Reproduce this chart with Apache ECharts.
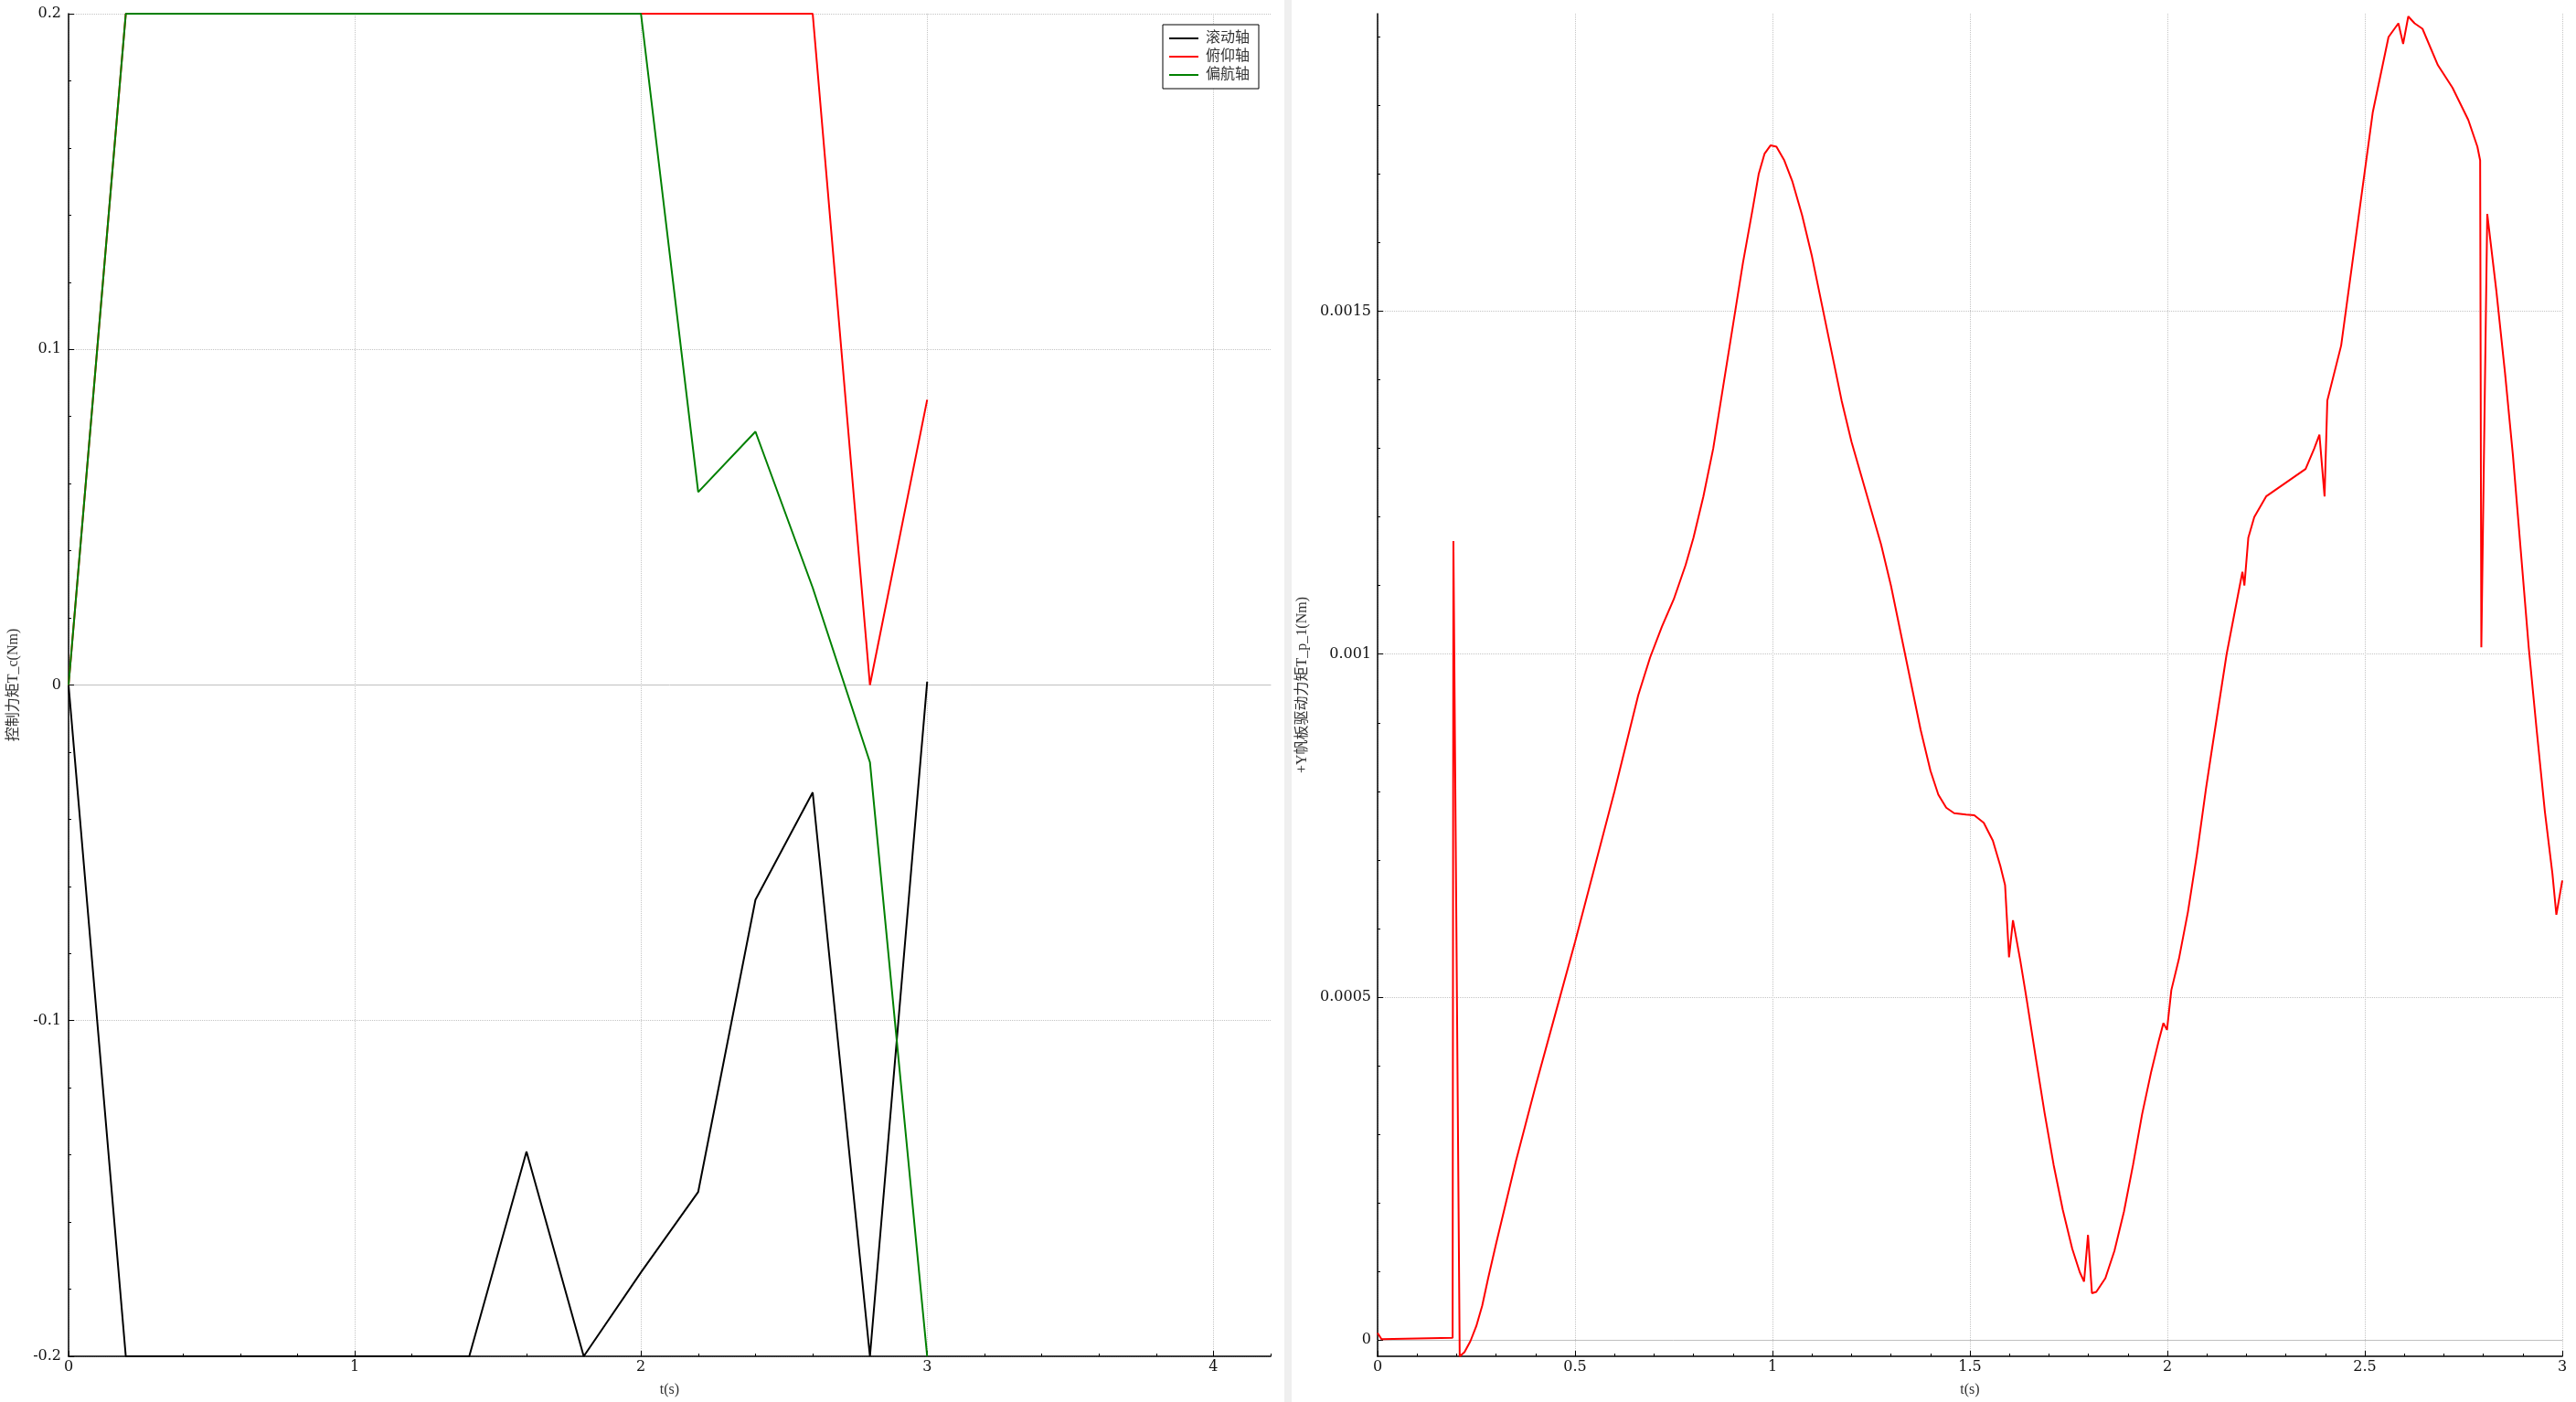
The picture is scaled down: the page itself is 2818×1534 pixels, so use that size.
<!DOCTYPE html>
<html>
<head>
<meta charset="utf-8">
<script src="https://cdn.jsdelivr.net/npm/echarts@6/dist/echarts.min.js"></script>
<style>
html,body{margin:0;padding:0;background:#fff;}
#main{width:2818px;height:1534px;}
</style>
</head>
<body>
<div id="main"></div>
<script>
// ---------- Left chart data: control torque T_c (Nm) ----------
var timeC = [0, 0.2, 0.4, 0.6, 0.8, 1.0, 1.2, 1.4, 1.6, 1.8, 2.0, 2.2, 2.4, 2.6, 2.8, 3.0];
var rollAxis  = [0, -0.2, -0.2, -0.2, -0.2, -0.2, -0.2, -0.2, -0.139, -0.2, -0.175, -0.151, -0.064, -0.032, -0.2, 0.001];
var pitchAxis = [0, 0.2, 0.2, 0.2, 0.2, 0.2, 0.2, 0.2, 0.2, 0.2, 0.2, 0.2, 0.2, 0.2, 0, 0.085];
var yawAxis   = [0, 0.2, 0.2, 0.2, 0.2, 0.2, 0.2, 0.2, 0.2, 0.2, 0.2, 0.0575, 0.0755, 0.029, -0.023, -0.2];
var seriesNames = ['滚动轴', '俯仰轴', '偏航轴'];

// ---------- Right chart data: +Y panel drive torque T_p_1 (Nm) ----------
var timeP = [0, 0.01, 0.19, 0.192, 0.208, 0.22, 0.235, 0.25, 0.265, 0.28,
  0.3, 0.325, 0.35, 0.375, 0.4, 0.45, 0.5, 0.55, 0.6, 0.63,
  0.66, 0.69, 0.72, 0.75, 0.78, 0.8, 0.825, 0.85, 0.875, 0.9,
  0.925, 0.95, 0.965, 0.98, 0.995, 1.01, 1.03, 1.05, 1.075, 1.1,
  1.125, 1.15, 1.175, 1.2, 1.225, 1.25, 1.275, 1.3, 1.325, 1.35,
  1.375, 1.4, 1.42, 1.44, 1.46, 1.49, 1.511, 1.535, 1.558, 1.577,
  1.589, 1.599, 1.609, 1.627, 1.643, 1.666, 1.689, 1.712, 1.735, 1.759,
  1.778, 1.789, 1.799, 1.809, 1.82, 1.843, 1.866, 1.89, 1.913, 1.936,
  1.959, 1.978, 1.99, 1.999, 2.01, 2.029, 2.052, 2.075, 2.098, 2.113,
  2.15, 2.19, 2.195, 2.205, 2.22, 2.25, 2.3, 2.35, 2.372, 2.385,
  2.398, 2.405, 2.44, 2.48, 2.52, 2.56, 2.585, 2.597, 2.61, 2.626,
  2.646, 2.685, 2.722, 2.762, 2.785, 2.792, 2.795, 2.81, 2.833, 2.855,
  2.875, 2.895, 2.915, 2.935, 2.956, 2.975, 2.985, 3.0];
var torqueP = [0.00001, 0.000001, 0.000003, 0.001165, -0.000024, -0.000018, -0.000002, 0.00002, 0.00005, 0.00009,
  0.00014, 0.0002, 0.00026, 0.000315, 0.00037, 0.000475, 0.00058, 0.00069, 0.0008, 0.00087,
  0.00094, 0.000995, 0.00104, 0.00108, 0.00113, 0.00117, 0.00123, 0.0013, 0.00139, 0.00148,
  0.00157, 0.00165, 0.0017, 0.00173, 0.001742, 0.00174, 0.00172, 0.00169, 0.00164, 0.00158,
  0.00151, 0.00144, 0.00137, 0.00131, 0.00126, 0.00121, 0.00116, 0.0011, 0.00103, 0.00096,
  0.00089, 0.00083, 0.000795, 0.000776, 0.000768, 0.000766, 0.000765, 0.000754, 0.000728, 0.000691,
  0.000663, 0.000558, 0.000612, 0.000555, 0.000499, 0.000414, 0.000331, 0.000255, 0.00019, 0.000133,
  0.000099, 0.000085, 0.000153, 0.000068, 0.00007, 0.00009, 0.00013, 0.000187, 0.000255, 0.000329,
  0.000391, 0.000436, 0.000462, 0.000452, 0.00051, 0.000555, 0.000624, 0.000709, 0.000805, 0.000862,
  0.001, 0.00112, 0.0011, 0.00117, 0.0012, 0.00123, 0.00125, 0.00127, 0.0013, 0.00132,
  0.00123, 0.00137, 0.00145, 0.00162, 0.00179, 0.0019, 0.00192, 0.00189, 0.00193, 0.00192,
  0.001912, 0.001859, 0.001826, 0.001779, 0.00174, 0.00172, 0.00101, 0.001642, 0.00153, 0.00141,
  0.00129, 0.00115, 0.00101, 0.00089, 0.00077, 0.00068, 0.00062, 0.00067];

// ---------- Tick labels ----------
var leftXTicks = [0, 1, 2, 3, 4];
var rightYTicks = [0, 0.0005, 0.001, 0.0015];

function pairs(xs, ys) { return xs.map(function (x, i) { return [x, ys[i]]; }); }
function steps(from, to, step, prec) {
  var out = [];
  for (var v = from; v <= to + step / 2; v += step) out.push(+v.toFixed(prec));
  return out;
}

var FONT = '"Liberation Serif", "Noto Sans CJK SC", serif';
var labelStyle = { color: '#111', fontSize: 16, fontFamily: '"DejaVu Serif", serif' };
var nameStyle = { color: '#333', fontSize: 16, fontFamily: FONT };
var dotted = { show: true, lineStyle: { type: 'dotted', color: '#c4c4c4', width: 1 } };
var blackLine = { show: true, onZero: false, lineStyle: { color: '#000', width: 1.5 } };

var chart = echarts.init(document.getElementById('main'), null, { renderer: 'canvas' });

var option = {
  backgroundColor: '#ffffff',
  animation: false,
  graphic: [{
    type: 'rect', left: 1405, top: 0,
    shape: { width: 8, height: 1534 },
    style: { fill: '#efefef' }, silent: true
  }],
  legend: {
    data: seriesNames,
    orient: 'vertical',
    left: 1272, top: 27,
    padding: [5, 10, 5, 7],
    icon: 'rect',
    itemWidth: 32, itemHeight: 2, itemGap: 0,
    backgroundColor: '#fff',
    borderColor: '#000', borderWidth: 1,
    textStyle: { color: '#333', fontSize: 16, lineHeight: 20, fontFamily: FONT, padding: [0, 0, 0, 3] }
  },
  grid: [
    { left: 75, top: 15, width: 1315, height: 1471 },
    { left: 1507, top: 15, width: 1296, height: 1471 }
  ],
  xAxis: [
    { // 0 left main
      type: 'value', gridIndex: 0, min: 0, max: 4.2,
      name: 't(s)', nameLocation: 'middle', nameGap: 29, nameTextStyle: nameStyle,
      axisLine: blackLine,
      axisTick: { show: true, inside: true, length: 6, customValues: leftXTicks, lineStyle: { color: '#000' } },
      axisLabel: { customValues: leftXTicks, margin: 4, ...labelStyle },
      splitLine: dotted
    },
    { // 1 left minor ticks
      type: 'value', gridIndex: 0, min: 0, max: 4.2, position: 'bottom',
      axisLine: { show: false, onZero: false },
      axisTick: { show: true, inside: true, length: 3, customValues: steps(0, 4.2, 0.2, 1), lineStyle: { color: '#000' } },
      axisLabel: { show: false }, splitLine: { show: false }
    },
    { // 2 left zero line
      type: 'value', gridIndex: 0, min: 0, max: 4.2,
      axisLine: { show: true, onZero: true, lineStyle: { color: '#c0c0c0', width: 1 } },
      axisTick: { show: false }, axisLabel: { show: false }, splitLine: { show: false }
    },
    { // 3 right main
      type: 'value', gridIndex: 1, min: 0, max: 3, interval: 0.5,
      name: 't(s)', nameLocation: 'middle', nameGap: 29, nameTextStyle: nameStyle,
      axisLine: blackLine,
      axisTick: { show: true, inside: true, length: 6, lineStyle: { color: '#000' } },
      minorTick: { show: true, splitNumber: 5, length: 3, lineStyle: { color: '#000' } },
      axisLabel: { margin: 4, ...labelStyle },
      splitLine: dotted
    },
    { // 4 right zero line
      type: 'value', gridIndex: 1, min: 0, max: 3,
      axisLine: { show: true, onZero: true, onZeroAxisIndex: 1, lineStyle: { color: '#c0c0c0', width: 1 } },
      axisTick: { show: false }, axisLabel: { show: false }, splitLine: { show: false }
    }
  ],
  yAxis: [
    { // 0 left main
      type: 'value', gridIndex: 0, min: -0.2, max: 0.2, interval: 0.1,
      name: '控制力矩T_c(Nm)', nameLocation: 'middle', nameGap: 52, nameTextStyle: nameStyle,
      axisLine: blackLine,
      axisTick: { show: true, inside: true, length: 6, lineStyle: { color: '#000' } },
      minorTick: { show: true, splitNumber: 5, length: 3, lineStyle: { color: '#000' } },
      axisLabel: { margin: 8, ...labelStyle },
      splitLine: dotted
    },
    { // 1 right main
      type: 'value', gridIndex: 1, min: -0.000024, max: 0.001934,
      name: '+Y帆板驱动力矩T_p_1(Nm)', nameLocation: 'middle', nameGap: 74, nameTextStyle: nameStyle,
      axisLine: blackLine,
      axisTick: { show: true, inside: true, length: 6, customValues: rightYTicks, lineStyle: { color: '#000' } },
      axisLabel: { customValues: rightYTicks, margin: 7, ...labelStyle },
      splitLine: dotted
    },
    { // 2 right minor ticks
      type: 'value', gridIndex: 1, min: -0.000024, max: 0.001934, position: 'left',
      axisLine: { show: false },
      axisTick: { show: true, inside: true, length: 3, customValues: steps(0, 0.0019, 0.0001, 4), lineStyle: { color: '#000' } },
      axisLabel: { show: false }, splitLine: { show: false }
    }
  ],
  series: [
    { name: seriesNames[0], type: 'line', xAxisIndex: 0, yAxisIndex: 0, data: pairs(timeC, rollAxis),
      symbol: 'none', showSymbol: false, lineStyle: { color: '#000000', width: 2 }, itemStyle: { color: '#000000' } },
    { name: seriesNames[1], type: 'line', xAxisIndex: 0, yAxisIndex: 0, data: pairs(timeC, pitchAxis),
      symbol: 'none', showSymbol: false, lineStyle: { color: '#ff0000', width: 2 }, itemStyle: { color: '#ff0000' } },
    { name: seriesNames[2], type: 'line', xAxisIndex: 0, yAxisIndex: 0, data: pairs(timeC, yawAxis),
      symbol: 'none', showSymbol: false, lineStyle: { color: '#008000', width: 2 }, itemStyle: { color: '#008000' } },
    { name: 'T_p_1', type: 'line', xAxisIndex: 3, yAxisIndex: 1, data: pairs(timeP, torqueP),
      symbol: 'none', showSymbol: false, lineStyle: { color: '#ff0000', width: 2 }, itemStyle: { color: '#ff0000' } }
  ]
};
chart.setOption(option);
</script>
</body>
</html>
